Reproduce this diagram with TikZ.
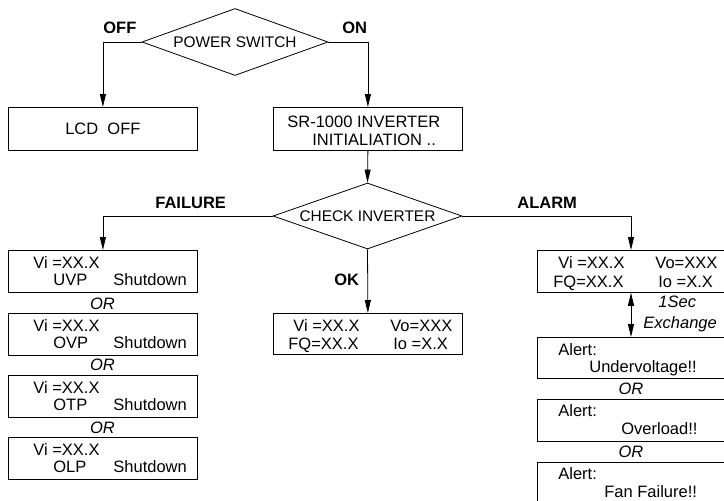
\documentclass[tikz,border=0pt]{standalone}
\usepackage{fontspec}
\setmainfont{Liberation Sans}
\usetikzlibrary{shapes.geometric,arrows.meta}
\begin{document}
\begin{tikzpicture}[x=1pt,y=-1pt,
  line width=0.8pt,
  arr/.style={-{Triangle[length=13pt,width=6pt]}},
  darr/.style={{Triangle[length=13pt,width=6pt]}-{Triangle[length=13pt,width=6pt]}},
  boxshape/.style={draw, rectangle, inner sep=0pt, anchor=north west, minimum width=189pt, minimum height=42pt},
  dia/.style={draw, diamond, inner sep=0pt, shape aspect=2.8, font=\fontsize{15.4}{17}\selectfont},
  txt/.style={inner sep=0pt, anchor=base west, font=\fontsize{16.5}{18}\selectfont},
  ctxt/.style={inner sep=0pt, anchor=center, font=\fontsize{16.5}{18}\selectfont},
  lbl/.style={inner sep=0pt, anchor=base west, font=\fontsize{16.5}{18}\selectfont\bfseries},
  ortxt/.style={inner sep=0pt, anchor=base, font=\fontsize{16.5}{18}\selectfont\itshape},
]
\useasboundingbox (0,0) rectangle (724,501);
\clip (0,0) rectangle (724,501);

% top decision
\node[dia, minimum width=186pt, minimum height=67pt] (ps) at (235,42) {POWER SWITCH};
\node[lbl] (offl) at (103,33) {OFF};
\node[lbl] (onl) at (342,33) {ON};

\node[boxshape, minimum height=43pt] (lcd) at (8,107) {};
\node[ctxt] (lcdt) at (lcd.center) {LCD\ \ OFF};
\node[boxshape, minimum height=43pt] (sr) at (273,107) {};
\node[txt] (srt1) at (287,127) {SR-1000 INVERTER};
\node[txt] (srt2) at (312,145) {INITIALIATION ..};

\draw[arr] (ps.west) -| (lcd.north);
\draw[arr] (ps.east) -| (sr.north);

% check inverter
\node[dia, minimum width=189pt, minimum height=66pt] (ci) at (367.5,216) {CHECK INVERTER};
\draw[arr] (sr.south) -- (ci.north);

\node[lbl] (faill) at (155,208) {FAILURE};
\node[lbl] (alarml) at (517,208) {ALARM};
\node[lbl] (okl) at (334,285) {OK};

% failure column
\node[boxshape] (f1) at (8,250) {};
\node[boxshape] (f2) at (8,313) {};
\node[boxshape] (f3) at (8,375) {};
\node[boxshape] (f4) at (8,437) {};
\node[txt] (f1a) at (33,268) {Vi =XX.X};
\node[txt] (f1b) at (53,285) {UVP};
\node[txt] (f1c) at (113,285) {Shutdown};
\node[txt] (f2a) at (33,331) {Vi =XX.X};
\node[txt] (f2b) at (53,348) {OVP};
\node[txt] (f2c) at (113,348) {Shutdown};
\node[txt] (f3a) at (33,393) {Vi =XX.X};
\node[txt] (f3b) at (53,410) {OTP};
\node[txt] (f3c) at (113,410) {Shutdown};
\node[txt] (f4a) at (33,455) {Vi =XX.X};
\node[txt] (f4b) at (53,472) {OLP};
\node[txt] (f4c) at (113,472) {Shutdown};
\node[ortxt] (or1) at (102.5,309) {OR};
\node[ortxt] (or2) at (102.5,370) {OR};
\node[ortxt] (or3) at (102.5,433) {OR};
\draw[arr] (ci.west) -| (f1.north);

% OK box
\node[boxshape, minimum height=41pt] (ok) at (273,313) {};
\node[txt] (oka) at (293,331) {Vi =XX.X};
\node[txt] (okb) at (390,331) {Vo=XXX};
\node[txt] (okc) at (288,349) {FQ=XX.X};
\node[txt] (okd) at (393,349) {Io =X.X};
\draw[arr] (ci.south) -- (ok.north);

% alarm column
\coordinate (ax) at (631,0);
\node[boxshape, minimum width=200pt] (r1) at (537,250) {};
\node[txt] (r1a) at (558,268) {Vi =XX.X};
\node[txt] (r1b) at (655,268) {Vo=XXX};
\node[txt] (r1c) at (553,287) {FQ=XX.X};
\node[txt] (r1d) at (658,287) {Io =X.X};
\draw[arr] (ci.east) -| (r1.north -| ax);

\node[boxshape, minimum width=200pt, minimum height=41pt] (a1) at (537,337) {};
\node[boxshape, minimum width=200pt] (a2) at (537,399) {};
\node[boxshape, minimum width=200pt] (a3) at (537,462) {};
\draw[darr] (r1.south -| ax) -- (a1.north -| ax);
\node[txt, font=\fontsize{16.5}{18}\selectfont\itshape] (sec) at (658,307) {1Sec};
\node[txt, font=\fontsize{16.5}{18}\selectfont\itshape] (exch) at (643,328) {Exchange};

\node[txt] (a1a) at (558,355) {Alert:};
\node[txt] (a1b) at (589,372) {Undervoltage!!};
\node[txt] (a2a) at (558,416) {Alert:};
\node[txt] (a2b) at (621,434) {Overload!!};
\node[txt] (a3a) at (558,479) {Alert:};
\node[txt] (a3b) at (604,497) {Fan Failure!!};
\node[ortxt] (or4) at (631,394) {OR};
\node[ortxt] (or5) at (631,457) {OR};
\end{tikzpicture}
\end{document}
